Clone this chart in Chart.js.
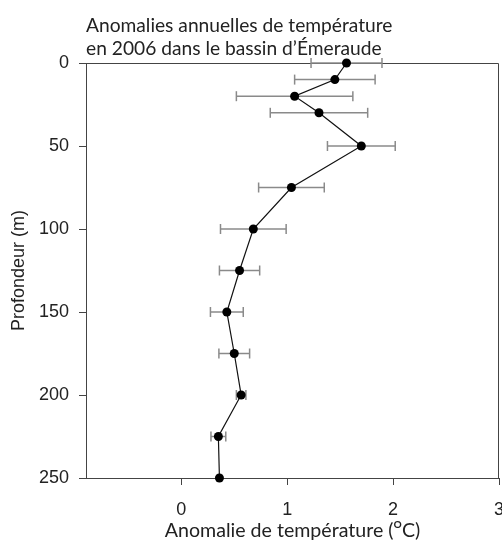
<!DOCTYPE html>
<html><head><meta charset="utf-8">
<script src="https://cdn.jsdelivr.net/npm/chart.js@4/dist/chart.umd.min.js"></script>
<style>html,body{margin:0;padding:0;background:#fff}</style>
</head><body>
<canvas id="c" width="502" height="540"></canvas>
<script>
const depths = [0, 10, 20, 30, 50, 75, 100, 125, 150, 175, 200, 225, 250];
const anomalies = [1.56, 1.45, 1.07, 1.30, 1.70, 1.04, 0.68, 0.55, 0.43, 0.50, 0.565, 0.35, 0.36];
const errors = [0.335, 0.38, 0.55, 0.46, 0.32, 0.31, 0.31, 0.19, 0.155, 0.145, 0.045, 0.07, 0];
const xTicks = [0, 1, 2, 3];
const yTicks = [0, 50, 100, 150, 200, 250];
const titleLines = ['Anomalies annuelles de température', 'en 2006 dans le bassin d’Émeraude'];
const xTitle = 'Anomalie de température (ᴼC)';
const yTitle = 'Profondeur (m)';

const profile = depths.map((d, i) => ({x: anomalies[i], y: d}));
const errorSegs = [];
depths.forEach((d, i) => {
  if (errors[i] > 0) {
    errorSegs.push({x: anomalies[i] - errors[i], y: d}, {x: anomalies[i] + errors[i], y: d}, {x: null, y: null});
  }
});

const AXIS = '#444';
const TXT = '#222';
const ARIAL = "'Liberation Sans', Arial, Helvetica, sans-serif";
const HUMAN = "Lato, 'Open Sans', 'DejaVu Sans', sans-serif";

const frame = {
  id: 'frame',
  beforeDatasetsDraw(chart) {
    const {ctx, chartArea: a} = chart;
    ctx.save();
    ctx.strokeStyle = AXIS;
    ctx.lineWidth = 1;
    const t = Math.round(a.top) + 0.5, r = Math.round(a.right) - 0.5;
    ctx.beginPath();
    ctx.moveTo(a.left, t); ctx.lineTo(r, t); ctx.lineTo(r, a.bottom);
    ctx.stroke();
    ctx.restore();
  }
};

new Chart(document.getElementById('c'), {
  type: 'line',
  data: {
    datasets: [
      {
        data: profile, order: 1, clip: false,
        borderColor: '#111', borderWidth: 1.2,
        pointRadius: 4.5, pointBackgroundColor: '#000', pointBorderColor: '#000', pointBorderWidth: 0
      },
      {
        data: errorSegs, order: 2, clip: false,
        borderColor: '#8a8a8a', borderWidth: 1.5,
        pointStyle: 'line', rotation: 90, pointRadius: 5,
        pointBorderColor: '#8a8a8a', pointBorderWidth: 1.5
      }
    ]
  },
  options: {
    responsive: false, animation: false, events: [],
    devicePixelRatio: 1,
    layout: {padding: 0, autoPadding: false},
    plugins: {
      legend: {display: false}, tooltip: {enabled: false},
      title: {
        display: true, text: titleLines, align: 'start', fullSize: false,
        color: TXT, font: {family: HUMAN, size: 19.2, weight: 'normal', lineHeight: '23.3px'},
        padding: {top: 14, bottom: 2.4}
      }
    },
    scales: {
      x: {
        type: 'linear', position: 'bottom', min: -0.9, max: 3,
        afterBuildTicks: s => { s.ticks = xTicks.map(v => ({value: v})); },
        afterFit: s => { s.height = 62; s.paddingRight = 3; },
        ticks: {color: TXT, font: {family: ARIAL, size: 18}, padding: 14},
        grid: {drawOnChartArea: false, drawTicks: true, tickLength: 7, color: AXIS},
        border: {color: AXIS},
        title: {display: true, text: xTitle, color: TXT, font: {family: HUMAN, size: 19.6, lineHeight: 1}, padding: {top: 0, bottom: 0}}
      },
      y: {
        type: 'linear', position: 'left', reverse: true, min: 0, max: 250,
        afterBuildTicks: s => { s.ticks = yTicks.map(v => ({value: v})); },
        afterFit: s => { s.width = 86; },
        ticks: {color: TXT, font: {family: ARIAL, size: 18}, padding: 10},
        grid: {drawOnChartArea: false, drawTicks: true, tickLength: 7, color: AXIS},
        border: {color: AXIS},
        title: {display: true, text: yTitle, color: TXT, font: {family: ARIAL, size: 18}, padding: {top: 8, bottom: 0}}
      }
    }
  },
  plugins: [frame]
});
</script>
</body></html>
